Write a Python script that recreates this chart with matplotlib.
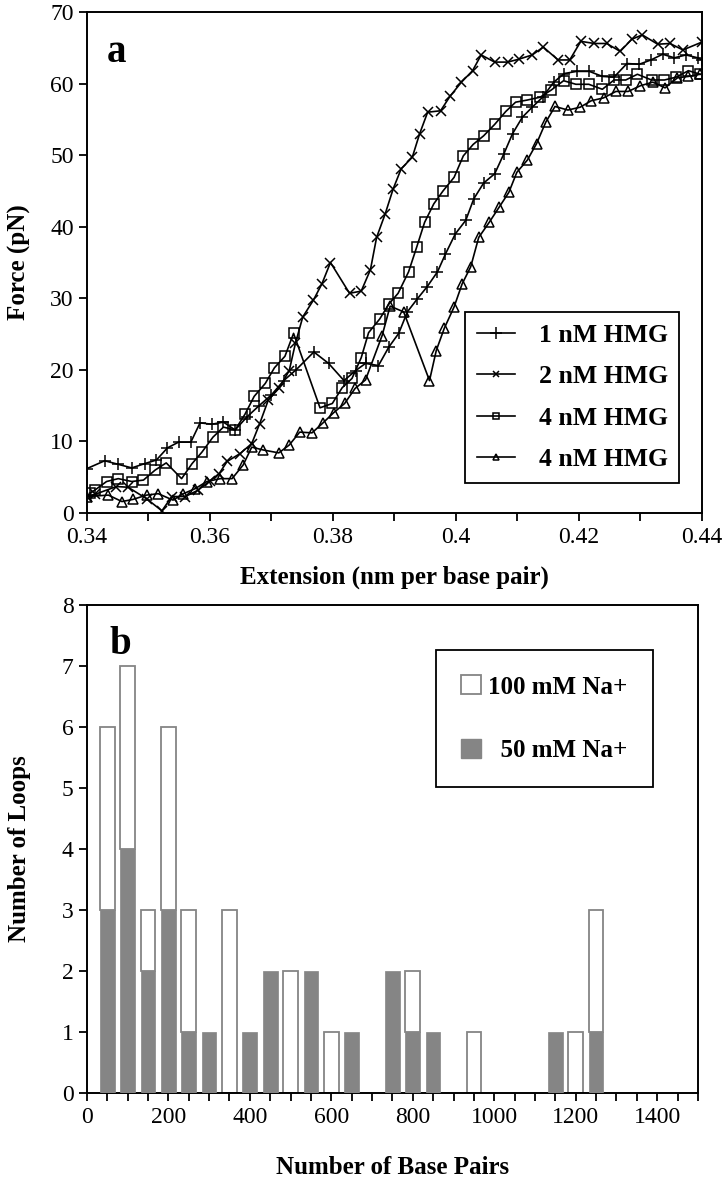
import numpy as np
import matplotlib
matplotlib.use("Agg")
import matplotlib.pyplot as plt
from matplotlib.patches import Patch
from matplotlib.lines import Line2D

plt.rcParams['font.family'] = ['Liberation Serif', 'DejaVu Serif']

# ---------------- Panel a data ----------------
ext_1nM = [0.3400, 0.3429, 0.3451, 0.3473, 0.3494, 0.3513, 0.3531, 0.3549, 0.3569, 0.3584,
           0.3603, 0.3622, 0.3641, 0.3660, 0.3680, 0.3700, 0.3720, 0.3740, 0.3769, 0.3793,
           0.3818, 0.3837, 0.3853, 0.3874, 0.3891, 0.3907, 0.3921, 0.3937, 0.3953, 0.3970,
           0.3983, 0.3999, 0.4016, 0.4029, 0.4045, 0.4063, 0.4078, 0.4092, 0.4108, 0.4124,
           0.4141, 0.4159, 0.4176, 0.4196, 0.4217, 0.4238, 0.4257, 0.4278, 0.4298, 0.4317,
           0.4336, 0.4355, 0.4374, 0.4393, 0.4400]
force_1nM = [6.2, 7.3, 6.8, 6.3, 6.9, 7.4, 9.1, 9.9, 9.9, 12.6,
             12.4, 12.7, 11.6, 13.4, 15.0, 16.5, 18.5, 20.0, 22.5, 20.9,
             18.5, 19.9, 20.9, 20.6, 23.2, 25.1, 28.1, 29.9, 31.6, 33.7,
             36.2, 39.0, 40.9, 43.9, 46.1, 47.4, 50.2, 53.0, 55.3, 56.7,
             58.1, 60.2, 61.4, 61.7, 61.7, 61.0, 60.9, 62.8, 62.7, 63.3,
             64.1, 63.6, 64.0, 63.6, 63.3]

ext_2nM = [0.3400, 0.3413, 0.3448, 0.3467, 0.3497, 0.3522, 0.3538, 0.3560, 0.3581, 0.3600,
           0.3615, 0.3628, 0.3649, 0.3668, 0.3681, 0.3695, 0.3713, 0.3729, 0.3739, 0.3751,
           0.3768, 0.3782, 0.3796, 0.3827, 0.3846, 0.3861, 0.3871, 0.3885, 0.3898, 0.3911,
           0.3929, 0.3941, 0.3954, 0.3975, 0.3991, 0.4009, 0.4027, 0.4041, 0.4063, 0.4084,
           0.4102, 0.4124, 0.4142, 0.4166, 0.4185, 0.4203, 0.4225, 0.4245, 0.4267, 0.4286,
           0.4303, 0.4328, 0.4348, 0.4369, 0.4400]
force_2nM = [2.3, 2.6, 3.7, 3.6, 2.0, 0.3, 2.3, 2.3, 3.2, 4.5,
             5.5, 7.2, 8.3, 9.7, 12.5, 15.8, 17.5, 19.9, 23.7, 27.4,
             29.7, 32.0, 35.0, 30.7, 31.0, 34.0, 38.5, 41.8, 45.3, 48.1,
             49.7, 53.0, 56.0, 56.2, 58.3, 60.2, 61.8, 64.0, 63.0, 63.0,
             63.4, 64.0, 65.1, 63.3, 63.3, 65.9, 65.6, 65.6, 64.5, 66.2,
             66.8, 65.5, 65.6, 64.7, 65.8]

ext_4nM_a = [0.3405, 0.3413, 0.3432, 0.3451, 0.3473, 0.3492, 0.3511, 0.3529, 0.3554, 0.3571,
             0.3587, 0.3605, 0.3622, 0.3641, 0.3657, 0.3672, 0.3690, 0.3705, 0.3722, 0.3736,
             0.3779, 0.3799, 0.3815, 0.3831, 0.3846, 0.3858, 0.3876, 0.3891, 0.3906, 0.3923,
             0.3936, 0.3949, 0.3964, 0.3979, 0.3997, 0.4012, 0.4028, 0.4045, 0.4063, 0.4081,
             0.4097, 0.4116, 0.4137, 0.4155, 0.4175, 0.4195, 0.4216, 0.4238, 0.4257, 0.4276,
             0.4295, 0.4318, 0.4339, 0.4358, 0.4378, 0.4397]
force_4nM_a = [2.8, 3.2, 4.4, 4.8, 4.4, 4.6, 6.0, 7.0, 4.8, 6.9,
               8.5, 10.6, 12.0, 11.6, 13.8, 16.3, 18.1, 20.3, 21.9, 25.1,
               14.7, 15.3, 17.5, 18.8, 21.7, 25.2, 27.1, 29.2, 30.7, 33.7,
               37.1, 40.6, 43.2, 45.0, 46.9, 49.9, 51.5, 52.7, 54.3, 56.1,
               57.4, 57.7, 58.1, 59.1, 60.4, 59.9, 59.9, 59.2, 60.5, 60.5,
               61.3, 60.5, 60.5, 60.9, 61.8, 61.3]

ext_4nM_b = [0.3400, 0.3435, 0.3457, 0.3475, 0.3497, 0.3516, 0.3540, 0.3557, 0.3576, 0.3595,
             0.3617, 0.3636, 0.3654, 0.3668, 0.3687, 0.3712, 0.3729, 0.3746, 0.3766, 0.3784,
             0.3801, 0.3819, 0.3836, 0.3853, 0.3880, 0.3893, 0.3915, 0.3957, 0.3968, 0.3981,
             0.3997, 0.4010, 0.4024, 0.4037, 0.4054, 0.4070, 0.4086, 0.4099, 0.4116, 0.4131,
             0.4146, 0.4161, 0.4182, 0.4202, 0.4220, 0.4240, 0.4260, 0.4280, 0.4300, 0.4320,
             0.4340, 0.4360, 0.4378, 0.4397]
force_4nM_b = [2.3, 2.5, 1.6, 1.9, 2.5, 2.7, 1.8, 2.7, 3.4, 4.4,
               4.8, 4.8, 6.7, 9.2, 8.8, 8.4, 9.5, 11.3, 11.2, 12.6,
               14.0, 15.3, 17.4, 18.6, 24.8, 28.9, 28.1, 18.5, 22.7, 25.8,
               28.8, 32.0, 34.4, 38.5, 40.6, 42.7, 44.8, 47.6, 49.3, 51.6,
               54.6, 56.8, 56.3, 56.7, 57.6, 58.0, 58.9, 58.9, 59.7, 60.2,
               59.4, 60.8, 61.0, 61.3]

series_labels = ['1 nM HMG', '2 nM HMG', '4 nM HMG', '4 nM HMG']

# ---------------- Panel b data ----------------
base_pairs = [50, 100, 150, 200, 250, 300, 350, 400, 450, 500, 550, 600, 650,
              700, 750, 800, 850, 900, 950, 1000, 1050, 1100, 1150, 1200, 1250]
loops_50mM = [3, 4, 2, 3, 1, 1, 0, 1, 2, 0, 2, 0, 1,
              0, 2, 1, 1, 0, 0, 0, 0, 0, 1, 0, 1]
loops_100mM = [3, 3, 1, 3, 2, 0, 3, 0, 0, 2, 0, 1, 0,
               0, 0, 1, 0, 0, 1, 0, 0, 0, 0, 1, 2]
bar_labels = ['100 mM Na+', '  50 mM Na+']

GRAY = '#858585'

fig = plt.figure(figsize=(7.24, 12), dpi=100)
ax1 = fig.add_axes([0.120, 0.5725, 0.8496, 0.4175])
ax2 = fig.add_axes([0.120, 0.0892, 0.8440, 0.4067])

# ---------- Panel a ----------
mk = dict(color='black', lw=1.2, mfc='none', mec='black', mew=1.1)
ax1.plot(ext_1nM, force_1nM, marker='+', ms=9, label=series_labels[0], **mk)
ax1.plot(ext_2nM, force_2nM, marker='x', ms=7.5, label=series_labels[1], **mk)
ax1.plot(ext_4nM_a, force_4nM_a, marker='s', ms=6.5, label=series_labels[2], **mk)
ax1.plot(ext_4nM_b, force_4nM_b, marker='^', ms=6.5, label=series_labels[3], **mk)

ax1.set_xlim(0.34, 0.44)
ax1.set_ylim(0, 70)
ax1.set_xticks([0.34, 0.36, 0.38, 0.40, 0.42, 0.44])
ax1.set_xticklabels(['0.34', '0.36', '0.38', '0.4', '0.42', '0.44'])
ax1.set_xticks([0.35, 0.37, 0.39, 0.41, 0.43], minor=True)
ax1.set_yticks(range(0, 71, 10))
ax1.set_xlabel('Extension (nm per base pair)', fontsize=18, fontweight='bold', labelpad=13)
ax1.set_ylabel('Force (pN)', fontsize=18, fontweight='bold', labelpad=14)
ax1.text(0.3432, 63, 'a', fontsize=28, fontweight='bold', ha='left', va='baseline')

leg1_handles = [
    Line2D([], [], marker='+', ms=8, **mk),
    Line2D([], [], marker='x', ms=5, **mk),
    Line2D([], [], marker='s', ms=5, **mk),
    Line2D([], [], marker='^', ms=5, **mk),
]
leg1 = ax1.legend(leg1_handles, series_labels, loc='lower right',
                  bbox_to_anchor=(0.963, 0.06), prop=dict(size=18.5, weight='bold'),
                  frameon=True, fancybox=False, edgecolor='black', framealpha=1,
                  handlelength=1.5, handletextpad=0.9, labelspacing=0.72,
                  borderpad=0.45, borderaxespad=0)
leg1.get_frame().set_linewidth(1.3)

# ---------- Panel b ----------
bp = np.array(base_pairs)
g = np.array(loops_50mM)
w = np.array(loops_100mM)
m50 = g > 0
m100 = w > 0
ax2.bar(bp[m100], w[m100], bottom=g[m100], width=36, color='white',
        edgecolor=GRAY, linewidth=1.3, zorder=2)
ax2.bar(bp[m50], g[m50], width=36, color=GRAY, edgecolor=GRAY, linewidth=0.5, zorder=3)

ax2.set_xlim(0, 1500)
ax2.set_ylim(0, 8)
ax2.set_xticks(range(0, 1401, 200))
ax2.set_xticks(range(50, 1501, 50), minor=True)
ax2.set_yticks(range(0, 9))
ax2.set_xlabel('Number of Base Pairs', fontsize=18, fontweight='bold', labelpad=20)
ax2.set_ylabel('Number of Loops', fontsize=18, fontweight='bold', labelpad=22)
ax2.text(55, 7.2, 'b', fontsize=28, fontweight='bold', ha='left', va='baseline')

leg2_handles = [Patch(facecolor='white', edgecolor=GRAY, linewidth=1.3),
                Patch(facecolor=GRAY, edgecolor=GRAY)]
leg2 = ax2.legend(leg2_handles, bar_labels, loc='upper right',
                  bbox_to_anchor=(0.926, 0.907), prop=dict(size=18, weight='bold'),
                  frameon=True, fancybox=False, edgecolor='black', framealpha=1,
                  handlelength=0.8, handleheight=0.8, handletextpad=0.3,
                  labelspacing=1.6, borderpad=1.0, borderaxespad=0)
leg2.get_frame().set_linewidth(1.3)

for ax in (ax1, ax2):
    for s in ax.spines.values():
        s.set_linewidth(1.4)
        s.set_color('black')
    ax.tick_params(axis='both', which='both', direction='out', length=6, width=1.3,
                   labelsize=17, colors='black')
    ax.tick_params(axis='x', pad=4)

fig.savefig('out.png', dpi=100)
